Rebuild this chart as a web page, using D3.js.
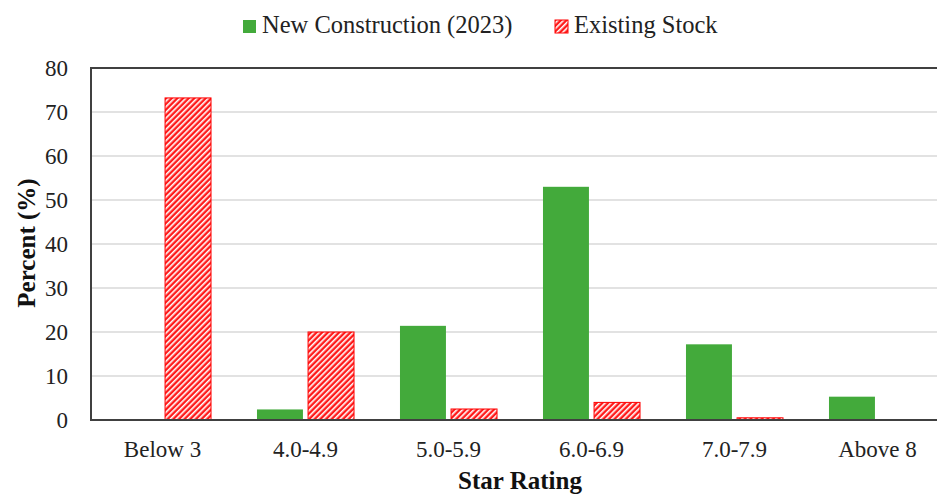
<!DOCTYPE html>
<html><head><meta charset="utf-8">
<script src="https://cdn.jsdelivr.net/npm/d3@7"></script>
<style>body{margin:0;background:#fff}svg{display:block}
svg text{font-family:"Liberation Serif","Times New Roman",Tinos,"DejaVu Serif",serif !important;}</style>
</head><body><div id="chart"></div>
<script>
const categories = ["Below 3","4.0-4.9","5.0-5.9","6.0-6.9","7.0-7.9","Above 8"];
const seriesNames = ["New Construction (2023)","Existing Stock"];
const newConstruction = [0, 2.4, 21.4, 53.0, 17.2, 5.3];
const existingStock = [73.2, 20.0, 2.5, 4.0, 0.5, 0];
const yTicks = [0,10,20,30,40,50,60,70,80];

const W = 937, H = 495;
const m = {left:91, top:68, right:-12, bottom:75};
const svg = d3.select("#chart").append("svg").attr("width",W).attr("height",H);
const defs = svg.append("defs");
const pat = defs.append("pattern").attr("id","hatch").attr("patternUnits","userSpaceOnUse")
  .attr("width",4).attr("height",4).attr("patternTransform","rotate(45)");
pat.append("rect").attr("width",4).attr("height",4).attr("fill","#ff1a1a");
pat.append("rect").attr("x",0).attr("y",0).attr("width",1.6).attr("height",4).attr("fill","#ffffff");

const x0 = d3.scaleBand().domain(categories).range([m.left, W - m.right]).paddingInner(0).paddingOuter(0);
const x1 = d3.scaleBand().domain(seriesNames).range([0, x0.bandwidth()]).paddingInner(0.1).paddingOuter(0.45);
const y = d3.scaleLinear().domain([0,80]).range([H - m.bottom, m.top]);

// gridlines
svg.append("g").selectAll("line").data(yTicks.filter(d=>d>0 && d<80)).join("line")
  .attr("x1",m.left).attr("x2",W - m.right).attr("y1",d=>y(d)).attr("y2",d=>y(d))
  .attr("stroke","#d9d9d9").attr("stroke-width",1.5);

// bars
const data = categories.map((c,i)=>({c, vals:[newConstruction[i], existingStock[i]]}));
const g = svg.append("g");
data.forEach(d=>{
  d.vals.forEach((v,j)=>{
    if (v<=0) return;
    const xs = x0(d.c) + x1(seriesNames[j]);
    g.append("rect").attr("x",xs).attr("width",x1.bandwidth())
      .attr("y",y(v)).attr("height",y(0)-y(v))
      .attr("fill", j===0 ? "#43aa3b" : "url(#hatch)")
      .attr("stroke", j===0 ? "none" : "#ff0000").attr("stroke-width",1);
  });
});

// axes frame
svg.append("line").attr("x1",m.left).attr("x2",W).attr("y1",m.top).attr("y2",m.top).attr("stroke","#404040").attr("stroke-width",2);
svg.append("line").attr("x1",m.left).attr("x2",m.left).attr("y1",m.top-1).attr("y2",y(0)+1).attr("stroke","#404040").attr("stroke-width",2);
svg.append("line").attr("x1",m.left).attr("x2",W).attr("y1",y(0)).attr("y2",y(0)).attr("stroke","#404040").attr("stroke-width",2);

// y axis labels
const ya = svg.append("g").attr("transform",`translate(${m.left},0)`)
  .call(d3.axisLeft(y).tickValues(yTicks).tickSize(0).tickPadding(23));
ya.select(".domain").remove();
ya.selectAll("text").attr("font-size",23).attr("fill","#222");

// x axis labels
const xa = svg.append("g").attr("transform",`translate(0,${y(0)})`)
  .call(d3.axisBottom(x0).tickSize(0).tickPadding(0));
xa.select(".domain").remove();
xa.selectAll("text").attr("font-size",23).attr("fill","#222").attr("dy",null).attr("y",37);

// axis titles
svg.append("text").attr("x",(m.left + W - m.right)/2).attr("y",489).attr("text-anchor","middle")
  .attr("font-size",25).attr("font-weight","bold").attr("fill","#111").text("Star Rating");
svg.append("text").attr("transform","translate(35,243) rotate(-90)").attr("text-anchor","middle")
  .attr("font-size",25).attr("font-weight","bold").attr("fill","#111").text("Percent (%)");

// legend
const leg = svg.append("g");
leg.append("rect").attr("x",243).attr("y",20).attr("width",13).attr("height",13).attr("fill","#43aa3b");
leg.append("text").attr("x",262).attr("y",33).attr("font-size",24.5).attr("fill","#222").text(seriesNames[0]);
leg.append("rect").attr("x",555).attr("y",20).attr("width",13).attr("height",13).attr("fill","url(#hatch)").attr("stroke","#ff0000");
leg.append("text").attr("x",574).attr("y",33).attr("font-size",24.5).attr("fill","#222").text(seriesNames[1]);
</script></body></html>
